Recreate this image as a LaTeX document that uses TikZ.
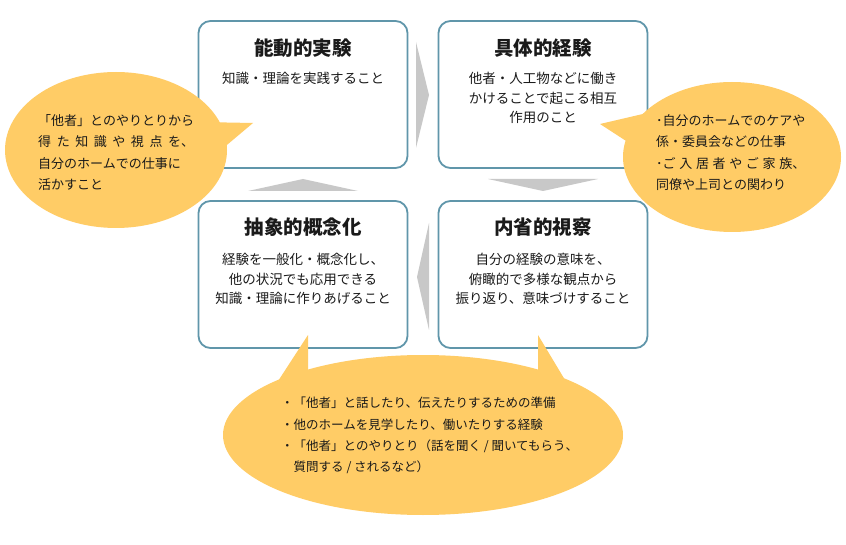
\documentclass[tikz,border=0pt]{standalone}
\usepackage{fontspec}
\usepackage{calc}
\setmainfont{Noto Sans CJK JP}
\usetikzlibrary{calc}
\definecolor{bub}{RGB}{255,204,102}
\definecolor{bord}{RGB}{96,150,170}
\definecolor{garr}{RGB}{200,200,200}
\definecolor{ink}{RGB}{26,26,26}
\tikzset{
  box/.style={draw=bord, line width=1.8pt, rounded corners=12pt, fill=white,
    minimum width=209pt, minimum height=147pt, inner sep=0pt},
  ttl/.style={font=\fontsize{19.5}{22}\selectfont\bfseries, text=ink, inner sep=0pt},
  body/.style={font=\fontsize{13.5}{19.5}\selectfont, align=center, text=ink, inner sep=0pt},
  btxt/.style={font=\fontsize{13}{21.5}\selectfont, align=left, text=ink, inner sep=0pt, anchor=west},
  garrow/.style={fill=garr, draw=none},
  bubble/.style={fill=bub, draw=none}
}
\begin{document}
\begin{tikzpicture}[x=1pt,y=-1pt]
\useasboundingbox (0,0) rectangle (846,545);
\fill[white] (0,0) rectangle (846,545);

% boxes
\node[box] (A) at (303,94.5) {};
\node[box] (B) at (543,94.5) {};
\node[box] (C) at (303,274.5) {};
\node[box] (D) at (543,274.5) {};

% cycle arrows
\fill[garrow] (416,42) -- (429,95) -- (416,148) -- cycle;
\fill[garrow] (488,179) -- (543,191) -- (598,179) -- cycle;
\fill[garrow] (429,223) -- (417,277) -- (429,330) -- cycle;
\fill[garrow] (248,191) -- (303,179) -- (358,191) -- cycle;

% bubbles
\fill[bubble] (116,150) ellipse [x radius=111pt, y radius=78pt];
\fill[bubble] (200,122) -- (253,123) -- (215,155) -- cycle;
\fill[bubble] (732,157) ellipse [x radius=109pt, y radius=75pt];
\fill[bubble] (600,124) -- (660,110) -- (640,150) -- cycle;
\fill[bubble] (423,435) ellipse [x radius=200pt, y radius=80pt];
\fill[bubble] (308,335) -- (308,395) -- (269,395) -- cycle;
\fill[bubble] (538,335) -- (574,395) -- (538,395) -- cycle;

% box texts
\node[ttl] (At) at (303,48) {能動的実験};
\node[body] (Ab) at (303,78) {知識・理論を実践すること};
\node[ttl] (Bt) at (543,48) {具体的経験};
\node[body] (Bb) at (543,98) {他者・人工物などに働き\\かけることで起こる相互\\作用のこと};
\node[ttl] (Ct) at (303,227) {抽象的概念化};
\node[body] (Cb) at (303,279) {経験を一般化・概念化し、\\他の状況でも応用できる\\知識・理論に作りあげること};
\node[ttl] (Dt) at (543,227) {内省的視察};
\node[body] (Db) at (543,279) {自分の経験の意味を、\\俯瞰的で多様な観点から\\振り返り、意味づけすること};

% bubble texts
\node[btxt] (Lt) at (38,152.5) {「他者」とのやりとりから\\\makebox[\widthof{「他者」とのやりとりから}][s]{得\hfil た\hfil 知\hfil 識\hfil や\hfil 視\hfil 点\hfil を、}\\自分のホームでの仕事に\\活かすこと};
\node[btxt] (Rt) at (656,152.5) {･自分のホームでのケアや\\係・委員会などの仕事\\\makebox[\widthof{･自分のホームでのケアや}][s]{･ご\hfil 入\hfil 居\hfil 者\hfil や\hfil ご\hfil 家\hfil 族、}\\同僚や上司との関わり};
\node[btxt, font=\fontsize{12.5}{21.3}\selectfont] (Mt) at (281,435.5) {・「他者」と話したり、伝えたりするための準備\\・他のホームを見学したり、働いたりする経験\\・「他者」とのやりとり（話を聞く / 聞いてもらう、\\\hspace*{1em}質問する / されるなど）};
\end{tikzpicture}
\end{document}
